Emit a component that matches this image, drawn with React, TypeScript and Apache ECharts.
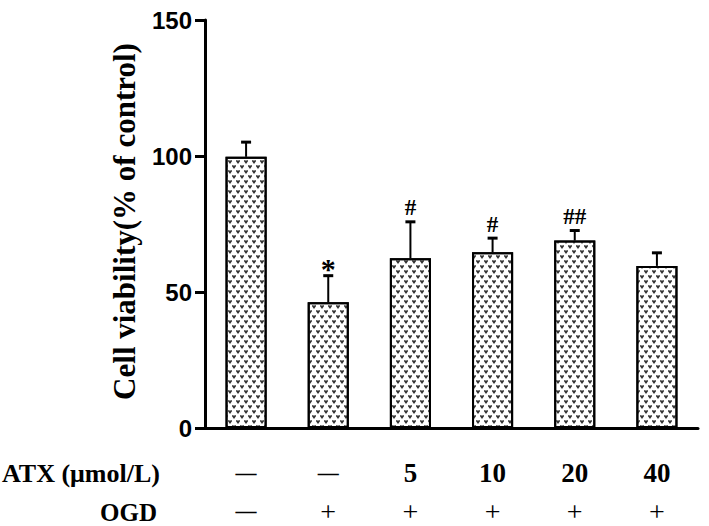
import React, { useEffect, useRef } from "react";
import * as echarts from "echarts";

const atxLabels = ["—", "—", "5", "10", "20", "40"];
const ogdLabels = ["—", "+", "+", "+", "+", "+"];
const means = [99.7, 46.2, 62.4, 64.6, 68.9, 59.6];
const errTops = [105.1, 56.0, 75.8, 69.8, 72.6, 64.4];
const marks = ["", "*", "#", "#", "##", ""];
const yTicks = [0, 50, 100, 150];
const yTitle = "Cell viability(% of control)";

const serif = '"Liberation Serif", "Times New Roman", serif';
const sans = '"Liberation Sans", Arial, sans-serif';

export default function App() {
  const ref = useRef<HTMLDivElement>(null);
  useEffect(() => {
    if (!ref.current) return;
    const chart = echarts.init(ref.current, null, { renderer: "svg" });
    const cats = atxLabels.map((_, i) => String(i));
    const option: any = {
      animation: false,
      backgroundColor: "#fff",
      grid: { left: 205, right: 11, top: 20, bottom: 98, outerBoundsMode: "none", containLabel: false },
      xAxis: {
        type: "category",
        data: cats,
        axisLine: { lineStyle: { color: "#000", width: 3 } },
        axisTick: { alignWithLabel: true, length: 12, lineStyle: { color: "#000", width: 3 } },
        axisLabel: {
          margin: 17,
          interval: 0,
          formatter: (v: string) => {
            const i = Number(v);
            const a = atxLabels[i];
            const o = ogdLabels[i];
            return `{${a === "—" ? "d" : "n"}|${a}}\n{${o === "—" ? "d2" : "p"}|${o}}`;
          },
          rich: {
            n: { fontFamily: serif, fontWeight: "bold", fontSize: 27, color: "#000", lineHeight: 56 },
            d: { fontFamily: serif, fontWeight: "bold", fontSize: 21, color: "#000", lineHeight: 56 },
            d2: { fontFamily: serif, fontWeight: "bold", fontSize: 21, color: "#000", lineHeight: 20 },
            p: { fontFamily: serif, fontWeight: "normal", fontSize: 28, color: "#000", lineHeight: 20 },
          },
        },
      },
      yAxis: {
        type: "value",
        min: 0,
        max: 150,
        interval: 50,
        splitLine: { show: false },
        axisLine: { show: true, lineStyle: { color: "#000", width: 3 } },
        axisTick: { show: true, length: 10, lineStyle: { color: "#000", width: 3 } },
        axisLabel: {
          margin: 13,
          fontFamily: sans,
          fontWeight: "bold",
          fontSize: 24,
          color: "#000",
          formatter: (v: number) => (yTicks.includes(v) ? String(v) : ""),
        },
      },
      series: [
        {
          type: "bar",
          data: means,
          barWidth: "50%",
          itemStyle: {
            color: "#fff",
            borderColor: "#000",
            borderWidth: 2,
            decal: {
              symbol: "path://M5,10 L0,3 C0,-0.5 4,-0.5 5,3 C6,-0.5 10,-0.5 10,3 Z",
              symbolSize: 1,
              color: "#333",
              backgroundColor: "#fff",
              dashArrayX: [[4, 4], [0, 4, 4, 0]],
              dashArrayY: [3.2, 0.5],
            },
          },
          z: 2,
        },
        {
          type: "custom",
          data: means.map((m, i) => [i, m, errTops[i]]),
          z: 3,
          renderItem: (params: any, api: any) => {
            const i = api.value(0);
            const p0 = api.coord([i, api.value(1)]);
            const p1 = api.coord([i, api.value(2)]);
            const capW = 5;
            const children: any[] = [
              { type: "line", shape: { x1: p0[0], y1: p0[1], x2: p1[0], y2: p1[1] }, style: { stroke: "#000", lineWidth: 2 } },
              { type: "line", shape: { x1: p1[0] - capW, y1: p1[1], x2: p1[0] + capW, y2: p1[1] }, style: { stroke: "#000", lineWidth: 3 } },
            ];
            const mk = marks[params.dataIndex];
            if (mk) {
              const isStar = mk === "*";
              children.push({
                type: "text",
                style: {
                  text: mk,
                  x: p1[0],
                  y: p1[1] - (isStar ? 7 : 14),
                  align: "center",
                  verticalAlign: "middle",
                  font: `bold ${isStar ? 30 : 23}px ${serif}`,
                  fill: "#000",
                },
              });
            }
            return { type: "group", children };
          },
        },
      ],
      graphic: [
        {
          type: "text",
          x: 124,
          y: 221.5,
          rotation: Math.PI / 2,
          style: { text: yTitle, font: `bold 31px ${serif}`, fill: "#000", align: "center", verticalAlign: "middle" },
        },
        { type: "text", x: 2, y: 473, style: { text: "ATX (μmol/L)", font: `bold 26px ${serif}`, fill: "#000", verticalAlign: "middle", lineHeight: 26 } },
        { type: "text", x: 100, y: 512, style: { text: "OGD", font: `bold 25px ${serif}`, fill: "#000", verticalAlign: "middle", lineHeight: 20 } },
      ],
    };
    chart.setOption(option);
    return () => chart.dispose();
  }, []);
  return <div ref={ref} style={{ position: "fixed", left: 0, top: 0, width: 709, height: 526 }} />;
}
